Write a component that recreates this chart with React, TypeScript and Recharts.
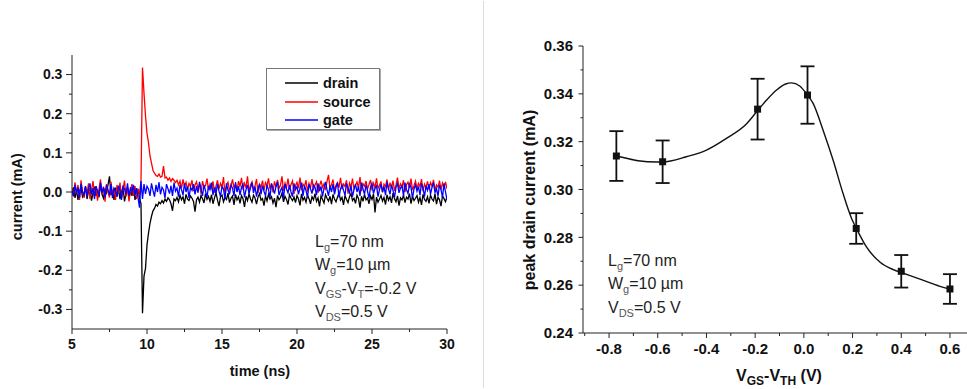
import React from "react";
import {
  LineChart, Line, XAxis, YAxis, Legend,
  ComposedChart, Scatter, ErrorBar,
} from "recharts";

const FONT = "'Liberation Sans', Arial, sans-serif";

// left panel: transient currents, sampled every 0.1 ns from 5 ns (values in uA)
const T_START = 5;
const T_STEP = 0.1;

const DRAIN_UA = [
  -8, 12, -15, 5, -20, 3, 10, -12, -5, 15,
  -18, 2, 8, -22, -3, 14, -10, 6, -14, 20,
  -6, -16, 9, -2, 18, 40, -8, 4, -20, 11,
  -12, 7, -18, 0, 13, -24, -4, 9, -15, 3,
  -10, 16, -20, -6, 8, -15, -30, -310, -215, -195,
  -135, -105, -80, -62, -48, -42, -32, -36, -26, -30,
  -22, -28, -18, -24, -15, -20, -30, -48, -18, -22,
  -14, -25, -8, -20, -12, -30, -6, -18, -22, -10,
  -16, -24, -50, -20, -13, -26, -9, -17, -28, -4,
  -19, -11, -24, -7, -30, -15, -2, -21, -36, -12,
  -8, -25, -14, -19, -3, -27, -16, -10, -33, -6,
  -20, -12, -29, -9, -17, -38, -11, -22, -5, -18,
  -26, -8, -15, -31, -13, -4, -21, -17, -35, -10,
  -23, -6, -18, -12, -28, -16, -39, -9, -20, -14,
  -3, -25, -11, -19, -32, -7, -16, -22, -13, -27,
  -9, -18, -34, -5, -21, -14, -26, -8, -17, -30,
  -12, -20, -4, -24, -15, -37, -10, -19, -28, -7,
  -16, -23, -11, -31, -6, -18, -25, -13, -2, -21,
  -14, -33, -9, -19, -27, -12, -4, -22, -16, -29,
  -8, -17, -40, -11, -24, -6, -20, -15, -30, -10,
  -19, -5, -52, -13, -26, -18, -9, -23, -14, -32,
  -7, -21, -12, -28, -3, -17, -25, -10, -35, -15,
  -20, -8, -27, -13, -18, -4, -30, -11, -22, -16,
  -9, -26, -14, -33, -6, -19, -24, -12, -29, -8,
  -18, -23, -5, -31, -13, -20, -36, -10, -17, -25,
  -12,
];

const SOURCE_UA = [
  10, -12, 25, -5, 18, -20, 30, 2, -15, 12,
  -8, 22, -18, 5, 28, -10, 15, -22, 8, 32,
  -5, 14, -25, 20, 0, -14, 26, -8, 10, -20,
  18, -3, 24, -16, 6, 29, -12, 12, -24, 4,
  20, -10, 15, -18, 8, -6, 30, 318, 252, 195,
  150, 126, 92, 74, 55, 48, 42, 40, 46, 38,
  40, 66, 36, 38, 30, 36, 27, 34, 30, 24,
  30, 18, 28, 10, 32, 15, 25, 6, 22, 14,
  30, 2, 18, 26, 8, 20, -4, 28, 12, 16,
  34, 5, 20, 10, 27, -2, 15, 30, 8, 22,
  12, 38, -6, 18, 25, 4, 16, 32, 10, 20,
  2, 28, 14, 36, 6, 22, 11, 40, 0, 18,
  26, 8, 15, 33, -3, 20, 12, 29, 5, 24,
  16, 35, 7, 21, -1, 27, 13, 31, 9, 18,
  40, 3, 23, 12, 34, 6, 19, 28, -5, 16,
  25, 10, 37, 4, 20, 14, 30, 1, 22, 11,
  33, 8, 18, 26, -2, 15, 29, 12, 21, 5,
  27, 44, 9, 19, 32, 3, 17, 24, 11, 36,
  7, 20, 14, 30, -4, 23, 13, 34, 6, 18,
  26, 10, 38, 2, 21, 15, 28, 8, 19, 31,
  4, 22, 12, 35, 9, 17, 27, -1, 20, 14,
  32, 6, 24, 11, 29, 3, 18, 37, 8, 21,
  13, 30, 0, 19, 25, 10, 34, 5, 16, 28,
  9, 22, 14, 33, 2, 20, 11, 27, 7, 24,
  15, 31, 4, 18, 12, 29, 6, 23, 10, 26,
  8,
];

const GATE_UA = [
  5, -10, 18, -4, 12, -15, 20, 0, -8, 14,
  -12, 8, 22, -6, 10, -18, 15, 3, -10, 24,
  -2, 12, -14, 18, 6, -8, 20, -16, 10, 2,
  -12, 16, 4, -20, 14, 8, -6, 22, -10, 12,
  0, 18, -8, 10, -14, -40, 28, -18, 20, -5,
  15, 8, -10, 22, 4, -12, 18, 0, 25, -6,
  12, 5, -15, 20, 8, -4, 16, -10, 24, 2,
  10, -12, 18, 6, -8, 22, 0, 14, -16, 12,
  4, 20, -6, 15, -2, 26, 8, -10, 18, 3,
  -14, 16, 6, 24, -8, 12, -4, 20, 2, -12,
  14, 8, -18, 22, 5, -6, 18, 10, -10, 25,
  0, 15, -8, 12, 20, -14, 6, 18, -4, 10,
  24, -2, 14, -12, 8, 20, -6, 16, 2, -10,
  18, 6, -14, 22, 10, -4, 14, 26, -8, 4,
  12, -16, 20, 8, -2, 18, 0, -12, 22, 6,
  14, -6, 10, 24, -10, 16, 4, -14, 20, 8,
  -4, 18, 12, -8, 22, 2, 14, -12, 10, 26,
  6, -10, 16, 0, 20, -6, 12, 24, -14, 8,
  18, 4, -8, 22, 10, -2, 16, -12, 6, 20,
  0, 14, -10, 24, 8, -6, 18, 2, -16, 12,
  22, -4, 10, 16, -12, 6, 20, 0, 14, -8,
  26, 8, -6, 18, 4, -14, 12, 22, -2, 10,
  16, -10, 24, 6, -4, 20, 12, -16, 8, 18,
  2, 14, -8, 22, 10, -12, 16, 4, 20, -6,
  12, 24, -2, 8, -10, 18, 6, -14, 22, 0,
  -20,
];

const SERIES = [
  { key: "drain", color: "#000000" },
  { key: "source", color: "#ff0000" },
  { key: "gate", color: "#0000ff" },
];

const TIME_TICKS = [5, 7.5, 10, 12.5, 15, 17.5, 20, 22.5, 25, 27.5, 30];
const CURRENT_TICKS = [-0.3, -0.25, -0.2, -0.15, -0.1, -0.05, 0, 0.05, 0.1, 0.15, 0.2, 0.25, 0.3];

// right panel: peak drain current vs gate overdrive
const VGS = [-0.77, -0.58, -0.19, 0.015, 0.215, 0.4, 0.6];
const PEAK = [0.314, 0.3116, 0.3336, 0.3395, 0.2837, 0.2658, 0.2584];
const PEAK_ERR = [0.0104, 0.0089, 0.0127, 0.012, 0.0064, 0.0068, 0.0062];

// guide curve
const FIT_X = [-0.77, -0.742, -0.681, -0.605, -0.58, -0.482, -0.4, -0.318, -0.235, -0.19, -0.153, -0.112, -0.075, -0.051, -0.017, 0.015, 0.038, 0.079, 0.12, 0.161, 0.196, 0.216, 0.257, 0.312, 0.367, 0.4, 0.477, 0.559, 0.6];
const FIT_Y = [0.314, 0.3134, 0.312, 0.3115, 0.3115, 0.3137, 0.3165, 0.3214, 0.3275, 0.333, 0.3374, 0.3416, 0.3441, 0.3446, 0.3433, 0.3395, 0.336, 0.3248, 0.3123, 0.2983, 0.2879, 0.2837, 0.276, 0.2697, 0.2665, 0.2653, 0.2625, 0.2595, 0.2584];

const VGS_TICKS = [-0.9, -0.8, -0.7, -0.6, -0.5, -0.4, -0.3, -0.2, -0.1, 0, 0.1, 0.2, 0.3, 0.4, 0.5, 0.6];
const PEAK_TICKS = [0.24, 0.25, 0.26, 0.27, 0.28, 0.29, 0.3, 0.31, 0.32, 0.33, 0.34, 0.35, 0.36];

const transient = DRAIN_UA.map((d, i) => ({
  t: +(T_START + i * T_STEP).toFixed(1),
  drain: d / 1000,
  source: SOURCE_UA[i] / 1000,
  gate: GATE_UA[i] / 1000,
}));
const points = VGS.map((x, i) => ({ x, y: PEAK[i], err: PEAK_ERR[i] }));
const fit = FIT_X.map((x, i) => ({ x, y: FIT_Y[i] }));

const AXIS = "#222";

// tick with long/short marks and labels only on majors
function Tick(props: any) {
  const { x, y, payload, side, isMajor, fmt, fs, majLen, minLen, gap } = props;
  const major = isMajor(payload.value);
  const len = major ? majLen : minLen;
  if (side === "left") {
    return (
      <g>
        <line x1={x} y1={y} x2={x - len} y2={y} stroke={AXIS} strokeWidth={1} />
        {major && (
          <text x={x - majLen - gap} y={y} dy="0.35em" textAnchor="end" fontSize={fs} fontWeight={700} fontFamily={FONT} fill="#111">
            {fmt(payload.value)}
          </text>
        )}
      </g>
    );
  }
  return (
    <g>
      <line x1={x} y1={y} x2={x} y2={y + len} stroke={AXIS} strokeWidth={1} />
      {major && (
        <text x={x} y={y + gap} dy="0.35em" textAnchor="middle" fontSize={fs} fontWeight={700} fontFamily={FONT} fill="#111">
          {fmt(payload.value)}
        </text>
      )}
    </g>
  );
}

function LegendBox() {
  return (
    <div style={{ border: "1px solid #777", boxShadow: "1px 1px 0 #aaa", background: "#fff", height: 62, boxSizing: "border-box", paddingTop: 5 }}>
      {SERIES.map((s) => (
        <div key={s.key} style={{ display: "flex", alignItems: "center", height: 18.4 }}>
          <svg width={51} height={4} style={{ display: "block" }}>
            <line x1={18} y1={2} x2={51} y2={2} stroke={s.color} strokeWidth={1.5} />
          </svg>
          <span style={{ marginLeft: 5, font: `bold 14.5px ${FONT}`, color: "#111" }}>{s.key}</span>
        </div>
      ))}
    </div>
  );
}

const sub: React.CSSProperties = { fontSize: 11, position: "relative", top: 4, color: "#555" };

function Note({ left, top, children }: any) {
  return (
    <div style={{ position: "absolute", left, top, font: `16px ${FONT}`, lineHeight: "21.3px", color: "#222", whiteSpace: "nowrap" }}>
      {children}
    </div>
  );
}

const SquareDot = (p: any) => <rect x={p.cx - 3.5} y={p.cy - 3.5} width={7} height={7} fill="#111" />;

export default function App() {
  return (
    <div style={{ position: "absolute", left: 0, top: 0, width: 967, height: 389, background: "#fff", overflow: "hidden" }}>
      <div style={{ position: "absolute", left: 0, top: 0 }}>
        <LineChart width={480} height={389} data={transient} margin={{ top: 55, right: 33, bottom: 30, left: 0 }}>
          <XAxis
            dataKey="t" type="number" domain={[5, 30]} ticks={TIME_TICKS} interval={0} allowDataOverflow height={30}
            axisLine={{ stroke: AXIS }} tickLine={false} tickSize={0} tickMargin={0}
            tick={(p: any) => <Tick {...p} side="bottom" isMajor={(v: number) => v % 5 === 0} fmt={(v: number) => String(v)} fs={14} majLen={5} minLen={3} gap={15.3} />}
            label={() => (
              <text x={260} y={371} dy="0.35em" textAnchor="middle" fontSize={14.5} fontWeight={700} fontFamily={FONT} fill="#111">time (ns)</text>
            )}
          />
          <YAxis
            type="number" domain={[-0.35, 0.35]} ticks={CURRENT_TICKS} interval={0} allowDataOverflow width={72}
            axisLine={{ stroke: AXIS }} tickLine={false} tickSize={0} tickMargin={0}
            tick={(p: any) => <Tick {...p} side="left" isMajor={(v: number) => Math.round(v * 100) % 10 === 0} fmt={(v: number) => v.toFixed(1)} fs={14} majLen={6} minLen={3} gap={3.6} />}
            label={() => (
              <text x={17.3} y={196.7} dy="0.35em" textAnchor="middle" transform="rotate(-90 17.3 196.7)" fontSize={14.5} fontWeight={700} fontFamily={FONT} fill="#111">current (mA)</text>
            )}
          />
          <Legend layout="vertical" align="center" verticalAlign="middle" content={<LegendBox />} wrapperStyle={{ left: 266, top: 68, width: 114, height: 63 }} />
          {SERIES.map((s) => (
            <Line key={s.key} dataKey={s.key} name={s.key} stroke={s.color} strokeWidth={1.3} dot={false} isAnimationActive={false} />
          ))}
        </LineChart>
        <Note left={315} top={231}>
          <div>L<span style={sub}>g</span>=70 nm</div>
          <div>W<span style={sub}>g</span>=10 µm</div>
          <div>V<span style={sub}>GS</span>-V<span style={sub}>T</span>=-0.2 V</div>
          <div>V<span style={sub}>DS</span>=0.5 V</div>
        </Note>
      </div>

      <div style={{ position: "absolute", left: 483, top: 1, width: 1.3, height: 387, background: "#ddd" }} />

      <div style={{ position: "absolute", left: 483, top: 0 }}>
        <ComposedChart width={484} height={389} margin={{ top: 46, right: 0, bottom: 26, left: 0 }}>
          <XAxis
            dataKey="x" type="number" domain={[-0.907, 0.67]} ticks={VGS_TICKS} interval={0} allowDataOverflow height={30}
            axisLine={{ stroke: AXIS }} tickLine={false} tickSize={0} tickMargin={0}
            tick={(p: any) => <Tick {...p} side="bottom" isMajor={(v: number) => Math.round(v * 10) % 2 === 0} fmt={(v: number) => v.toFixed(1)} fs={15} majLen={5} minLen={3} gap={16} />}
            label={() => (
              <text x={296} y={375.5} dy="0.35em" textAnchor="middle" fontSize={16} fontWeight={700} fontFamily={FONT} fill="#111">
                V<tspan fontSize={12} dy={3.5}>GS</tspan><tspan dy={-3.5}>-V</tspan><tspan fontSize={12} dy={3.5}>TH</tspan><tspan dy={-3.5}> (V)</tspan>
              </text>
            )}
          />
          <YAxis
            type="number" domain={[0.24, 0.36]} ticks={PEAK_TICKS} interval={0} allowDataOverflow width={100}
            axisLine={{ stroke: AXIS }} tickLine={false} tickSize={0} tickMargin={0}
            tick={(p: any) => <Tick {...p} side="left" isMajor={(v: number) => Math.round(v * 100) % 2 === 0} fmt={(v: number) => v.toFixed(2)} fs={15} majLen={4.5} minLen={2.5} gap={5.5} />}
            label={() => (
              <text x={46.3} y={200} dy="0.35em" textAnchor="middle" transform="rotate(-90 46.3 200)" fontSize={16} fontWeight={700} fontFamily={FONT} fill="#111">peak drain current (mA)</text>
            )}
          />
          <Line data={fit} dataKey="y" type="monotone" stroke="#111" strokeWidth={1.4} dot={false} isAnimationActive={false} />
          <Scatter data={points} dataKey="y" shape={SquareDot} isAnimationActive={false}>
            <ErrorBar dataKey="err" direction="y" width={7} stroke="#111" strokeWidth={1.8} />
          </Scatter>
        </ComposedChart>
        <Note left={125} top={250}>
          <div>L<span style={sub}>g</span>=70 nm</div>
          <div>W<span style={sub}>g</span>=10 µm</div>
          <div>V<span style={sub}>DS</span>=0.5 V</div>
        </Note>
      </div>
    </div>
  );
}
